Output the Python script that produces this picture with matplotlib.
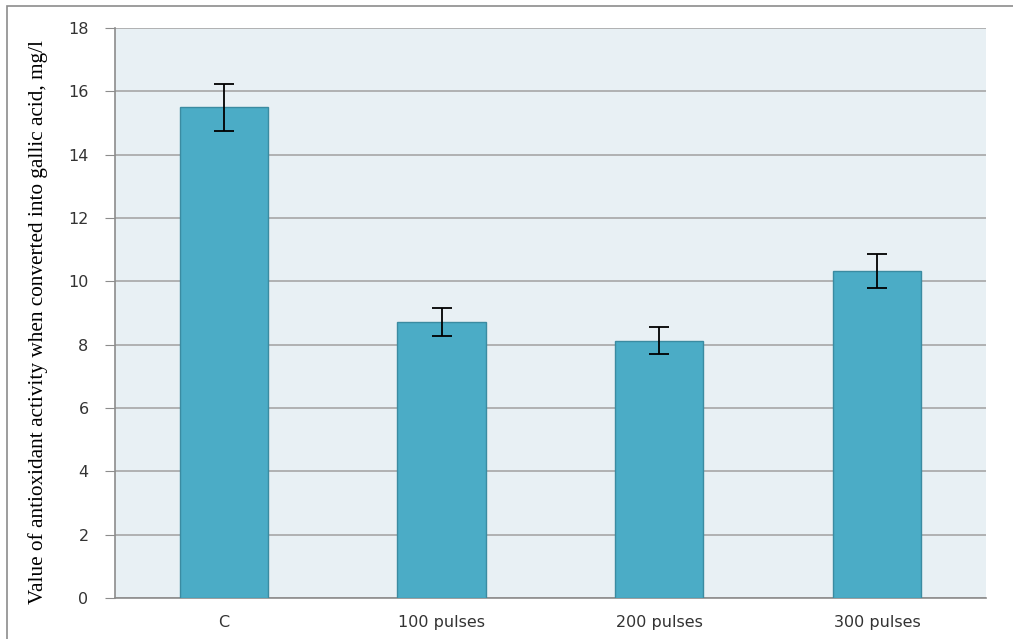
import matplotlib.pyplot as plt
from matplotlib.patches import Rectangle

# antioxidant activity by treatment
categories = ['C', '100 pulses', '200 pulses', '300 pulses']
values = [15.5, 8.72, 8.13, 10.33]
errors = [0.75, 0.45, 0.43, 0.53]

fig = plt.figure(figsize=(10.13, 6.39), dpi=100)
ax = fig.add_axes([0.1135, 0.0642, 0.8598, 0.8918])

# outer frame of the chart
fig.patches.append(Rectangle((0.007, -0.05), 1.1, 1.04, transform=fig.transFigure,
                             fill=False, edgecolor='#8c8c8c', linewidth=1.2))

ax.set_facecolor('#e8f0f4')
x = range(len(categories))
ax.bar(x, values, width=0.405, color='#4bacc6', edgecolor='#3b8ba1', linewidth=1,
       yerr=errors, capsize=7, error_kw=dict(ecolor='black', elinewidth=1.3, capthick=1.3),
       zorder=3)

ax.set_xlim(-0.5, 3.5)
ax.set_ylim(0, 18)
ax.set_yticks(range(0, 19, 2))
ax.set_xticks(list(x))
ax.set_xticklabels(categories)
ax.yaxis.grid(True, color='#a6a6a6', linewidth=1.2, zorder=0)
ax.set_axisbelow(True)

for s in ['top', 'right']:
    ax.spines[s].set_visible(False)
for s in ['left', 'bottom']:
    ax.spines[s].set_color('#8c8c8c')
    ax.spines[s].set_linewidth(1.2)

ax.tick_params(axis='y', length=7, color='#8c8c8c', labelsize=11.5, pad=12, labelcolor='#333333')
ax.tick_params(axis='x', length=0, labelsize=11.5, pad=12, labelcolor='#333333')

ax.set_ylabel('Value of antioxidant activity when converted into gallic acid, mg/l',
              family='Liberation Serif', fontsize=15.3)
ax.yaxis.set_label_coords(-0.077, 0.485)

fig.savefig('out.png', dpi=100)
